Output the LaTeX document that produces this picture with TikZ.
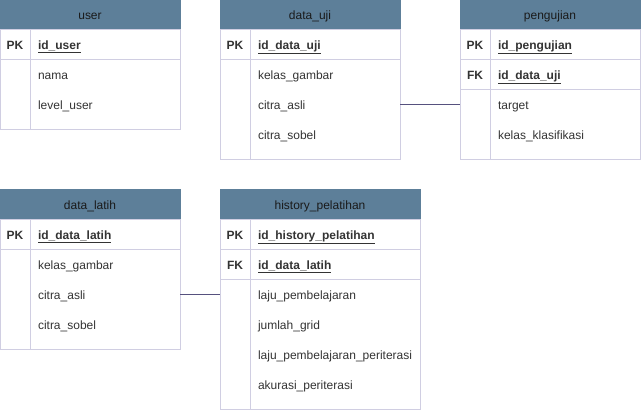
\documentclass[tikz,border=0pt]{standalone}
\usepackage{fontspec}
\setmainfont{Liberation Sans}
\definecolor{hdrc}{HTML}{5D7F99}
\definecolor{bordc}{HTML}{D0CEE2}
\definecolor{linec}{HTML}{56517E}
\definecolor{txtc}{HTML}{333333}
\definecolor{hdrtxt}{HTML}{1A1A1A}
\tikzset{
  base/.style={anchor=north west, inner ysep=0pt, outer sep=0pt, font=\fontsize{12}{14}\selectfont, text=txtc, line width=1pt, text height=11pt, text depth=2pt},
  hdr/.style={base, draw=hdrc, fill=hdrc, minimum height=30pt, inner xsep=0pt, text=hdrtxt},
  keyc/.style={base, draw=bordc, minimum width=30pt, minimum height=30pt, inner xsep=0pt, font=\fontsize{12}{14}\selectfont\bfseries},
  keyf/.style={base, draw=bordc, minimum height=30pt, inner xsep=8pt, align=left, font=\fontsize{12}{14}\selectfont\bfseries},
  bodyc/.style={base, draw=bordc, inner xsep=0pt},
  rowf/.style={base, minimum height=30pt, inner xsep=8pt, align=left},
  conn/.style={draw=linec, line width=1pt}
}
\newcommand{\ul}[1]{\underline{#1}}
\begin{document}
\begin{tikzpicture}[x=1pt,y=-1pt]
\useasboundingbox (0,0) rectangle (641,411);
% user
\node[hdr, minimum width=180pt] (u_h) at (0,0) {user};
\node[keyc] (u_k1) at (0,30) {PK};
\node[keyf, text width=134pt] (u_f1) at (30,30) {\ul{id\_user}};
\node[bodyc, minimum width=30pt, minimum height=70pt] (u_bk) at (0,60) {};
\node[bodyc, minimum width=150pt, minimum height=70pt] (u_bf) at (30,60) {};
\node[rowf, text width=134pt] (u_r1) at (30,60) {nama};
\node[rowf, text width=134pt] (u_r2) at (30,90) {level\_user};
% data_uji
\node[hdr, minimum width=180pt] (du_h) at (220,0) {data\_uji};
\node[keyc] (du_k1) at (220,30) {PK};
\node[keyf, text width=134pt] (du_f1) at (250,30) {\ul{id\_data\_uji}};
\node[bodyc, minimum width=30pt, minimum height=100pt] (du_bk) at (220,60) {};
\node[bodyc, minimum width=150pt, minimum height=100pt] (du_bf) at (250,60) {};
\node[rowf, text width=134pt] (du_r1) at (250,60) {kelas\_gambar};
\node[rowf, text width=134pt] (du_r2) at (250,90) {citra\_asli};
\node[rowf, text width=134pt] (du_r3) at (250,120) {citra\_sobel};
% pengujian
\node[hdr, minimum width=180pt] (pg_h) at (460,0) {pengujian};
\node[keyc] (pg_k1) at (460,30) {PK};
\node[keyf, text width=134pt] (pg_f1) at (490,30) {\ul{id\_pengujian}};
\node[keyc] (pg_k2) at (460,60) {FK};
\node[keyf, text width=134pt] (pg_f2) at (490,60) {\ul{id\_data\_uji}};
\node[bodyc, minimum width=30pt, minimum height=70pt] (pg_bk) at (460,90) {};
\node[bodyc, minimum width=150pt, minimum height=70pt] (pg_bf) at (490,90) {};
\node[rowf, text width=134pt] (pg_r1) at (490,90) {target};
\node[rowf, text width=134pt] (pg_r2) at (490,120) {kelas\_klasifikasi};
% data_latih
\node[hdr, minimum width=180pt] (dl_h) at (0,190) {data\_latih};
\node[keyc] (dl_k1) at (0,220) {PK};
\node[keyf, text width=134pt] (dl_f1) at (30,220) {\ul{id\_data\_latih}};
\node[bodyc, minimum width=30pt, minimum height=100pt] (dl_bk) at (0,250) {};
\node[bodyc, minimum width=150pt, minimum height=100pt] (dl_bf) at (30,250) {};
\node[rowf, text width=134pt] (dl_r1) at (30,250) {kelas\_gambar};
\node[rowf, text width=134pt] (dl_r2) at (30,280) {citra\_asli};
\node[rowf, text width=134pt] (dl_r3) at (30,310) {citra\_sobel};
% history_pelatihan
\node[hdr, minimum width=200pt] (hp_h) at (220,190) {history\_pelatihan};
\node[keyc] (hp_k1) at (220,220) {PK};
\node[keyf, text width=154pt] (hp_f1) at (250,220) {\ul{id\_history\_pelatihan}};
\node[keyc] (hp_k2) at (220,250) {FK};
\node[keyf, text width=154pt] (hp_f2) at (250,250) {\ul{id\_data\_latih}};
\node[bodyc, minimum width=30pt, minimum height=130pt] (hp_bk) at (220,280) {};
\node[bodyc, minimum width=170pt, minimum height=130pt] (hp_bf) at (250,280) {};
\node[rowf, text width=154pt] (hp_r1) at (250,280) {laju\_pembelajaran};
\node[rowf, text width=154pt] (hp_r2) at (250,310) {jumlah\_grid};
\node[rowf, text width=154pt] (hp_r3) at (250,340) {laju\_pembelajaran\_periterasi};
\node[rowf, text width=154pt] (hp_r4) at (250,370) {akurasi\_periterasi};
% connectors
\draw[conn] (du_bf.east |- du_r2.east) -- (pg_bk.west |- pg_r1.west);
\draw[conn] (dl_bf.east |- dl_r2.east) -- (hp_bk.west |- hp_r1.west);
\end{tikzpicture}
\end{document}
